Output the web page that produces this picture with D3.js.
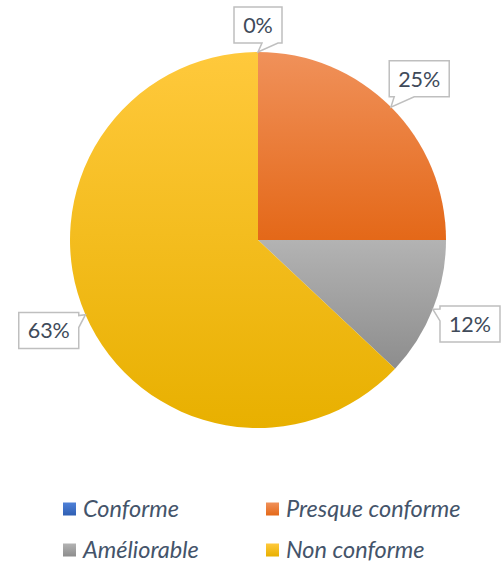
<!DOCTYPE html>
<html>
<head>
<meta charset="utf-8">
<script src="https://cdn.jsdelivr.net/npm/d3@7"></script>
<style>
  html, body { margin: 0; padding: 0; background: #ffffff; }
  svg { display: block; }
</style>
</head>
<body>
<svg id="chart" width="504" height="565"></svg>
<script>
// Share of audit findings by compliance status
const categories = ["Conforme", "Presque conforme", "Améliorable", "Non conforme"];
const values = [0, 25, 12, 63];
const labels = ["0%", "25%", "12%", "63%"];
const colorsTop = ["#4F81D8", "#F0915A", "#B3B3B3", "#FFC93C"];
const colorsBottom = ["#2F5FB3", "#E46818", "#8D8D8D", "#E8B000"];

const width = 504, height = 565;
const cx = 258, cy = 240, radius = 188;
const font = "Lato, 'Open Sans', sans-serif";
const textColor = "#404A59";

const svg = d3.select("#chart");
const defs = svg.append("defs");

categories.forEach((c, i) => {
  const g = defs.append("linearGradient")
    .attr("id", "grad" + i)
    .attr("x1", 0).attr("y1", 0).attr("x2", 0).attr("y2", 1);
  g.append("stop").attr("offset", "0%").attr("stop-color", colorsTop[i]);
  g.append("stop").attr("offset", "100%").attr("stop-color", colorsBottom[i]);
});

const pie = d3.pie().sort(null).value(d => d)(values);
const arc = d3.arc().innerRadius(0).outerRadius(radius);

const pieG = svg.append("g").attr("transform", `translate(${cx},${cy})`);
pieG.selectAll("path.slice")
  .data(pie)
  .join("path")
  .attr("class", "slice")
  .attr("d", arc)
  .attr("fill", (d, i) => `url(#grad${i})`);

// Callout labels (rectangle with a wedge pointing at the slice edge)
const labelG = svg.append("g").attr("font-family", font);
pie.forEach((d, i) => {
  const mid = (d.startAngle + d.endAngle) / 2;
  const tip = [cx + radius * Math.sin(mid), cy - radius * Math.cos(mid)];
  const dist = d.value === 0 ? 215 : 228;
  const bc = [cx + dist * Math.sin(mid), cy - dist * Math.cos(mid)];
  const fs = 21.5;
  const tmp = labelG.append("text").attr("font-size", fs).text(labels[i]);
  const tw = tmp.node().getComputedTextLength();
  tmp.remove();
  const w = Math.round(tw + 18), h = 36;
  const x0 = bc[0] - w / 2, y0 = bc[1] - h / 2;
  const dx = tip[0] - bc[0], dy = tip[1] - bc[1];
  // outline traced clockwise from the top-left corner
  let pts;
  if (Math.abs(dx) / w > Math.abs(dy) / h) {
    // wedge on the left or right side
    const a = dy < 0 ? h / 12 : h * 7 / 12;
    const b = dy < 0 ? h * 5 / 12 : h * 11 / 12;
    if (dx > 0) {
      pts = [[x0, y0], [x0 + w, y0], [x0 + w, y0 + a], tip, [x0 + w, y0 + b], [x0 + w, y0 + h], [x0, y0 + h]];
    } else {
      pts = [[x0, y0], [x0 + w, y0], [x0 + w, y0 + h], [x0, y0 + h], [x0, y0 + b], tip, [x0, y0 + a]];
    }
  } else {
    const a = dx < 0 ? w / 12 : w * 7 / 12;
    const b = dx < 0 ? w * 5 / 12 : w * 11 / 12;
    if (dy > 0) {
      pts = [[x0, y0], [x0 + w, y0], [x0 + w, y0 + h], [x0 + b, y0 + h], tip, [x0 + a, y0 + h], [x0, y0 + h]];
    } else {
      pts = [[x0, y0], [x0 + a, y0], tip, [x0 + b, y0], [x0 + w, y0], [x0 + w, y0 + h], [x0, y0 + h]];
    }
  }
  labelG.append("path")
    .attr("d", d3.line()(pts) + "Z")
    .attr("fill", "#ffffff")
    .attr("stroke", "#BFBFBF")
    .attr("stroke-width", 1.5)
    .attr("stroke-linejoin", "miter");
  labelG.append("text")
    .attr("x", bc[0]).attr("y", bc[1])
    .attr("dy", "0.36em")
    .attr("text-anchor", "middle")
    .attr("font-size", fs)
    .attr("fill", textColor)
    .text(labels[i]);
});

// Legend in two columns
const legend = svg.append("g").attr("font-family", font);
const colX = [63, 266], rowY = [509, 550];
categories.forEach((c, i) => {
  const x = colX[i % 2], y = rowY[Math.floor(i / 2)];
  legend.append("rect")
    .attr("x", x).attr("y", y - 6.5).attr("width", 13).attr("height", 13)
    .attr("fill", `url(#grad${i})`);
  legend.append("text")
    .attr("x", x + 20).attr("y", y)
    .attr("dy", "0.36em")
    .attr("font-size", 23.5)
    .attr("font-style", "italic")
    .attr("fill", "#44546A")
    .text(c);
});
</script>
</body>
</html>
